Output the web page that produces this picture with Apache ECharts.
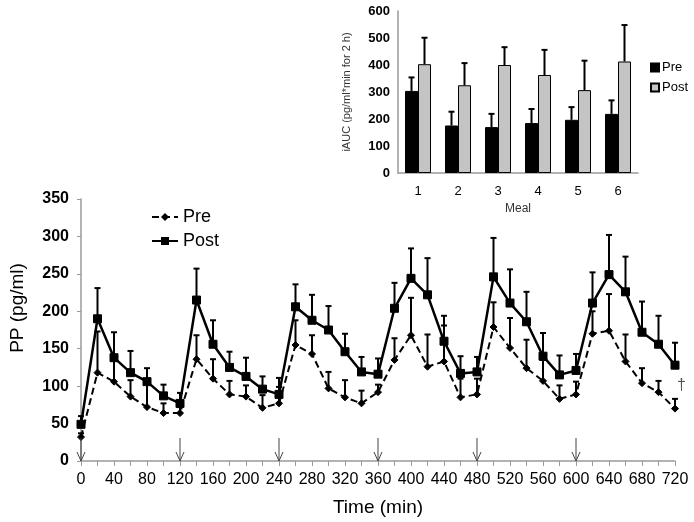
<!DOCTYPE html>
<html><head><meta charset="utf-8">
<script src="https://cdn.jsdelivr.net/npm/echarts/dist/echarts.min.js"></script>
<style>html,body{margin:0;padding:0;background:#fff}#c{width:694px;height:522px}</style>
</head><body><div id="c"></div>
<script>
// ---- main chart data (PP, pg/ml) ----
const times    = [0,20,40,60,80,100,120,140,160,180,200,220,240,260,280,300,320,340,360,380,400,420,440,460,480,500,520,540,560,580,600,620,640,660,680,700,720];
const preMean  = [32,118,106,86,72,64,64,136,110,89,86,71,77,155,143,97,85,77,92,135,168,126,133,85,89,179,151,124,107,83,89,170,174,133,104,92,70];
const preUpper = [37,173,137,108,103,77,72,168,136,107,101,88,99,188,168,119,108,94,102,164,218,169,181,110,110,212,191,162,135,101,106,200,223,169,124,107,83];
const postMean = [49,190,138,118,106,87,77,215,156,125,113,96,89,206,188,175,146,119,116,204,244,222,160,117,119,246,211,186,140,115,121,211,249,226,172,156,128];
const postUpper= [60,231,172,147,124,102,91,257,188,146,138,113,111,236,222,207,170,139,137,238,284,271,194,140,139,298,256,226,171,141,143,252,302,273,213,194,158];
const mealTimes = [0,120,240,360,480,600];

// ---- inset data (iAUC) ----
const meals      = ['1','2','3','4','5','6'];
const aucPre     = [304,176,170,185,197,219];
const aucPreUp   = [354,227,219,237,244,269];
const aucPost    = [403,325,400,363,307,413];
const aucPostUp  = [501,407,466,456,416,548];

const FONT = 'Liberation Sans, Arial, sans-serif';
const AX = '#9a9a9a';
const BARW = 13;

function errMain(params, api){
  const x = api.value(0), m = api.value(1), u = api.value(2);
  const p0 = api.coord([x,m]), p1 = api.coord([x,u]);
  const hw = 3;
  return {type:'group', children:[
    {type:'line', shape:{x1:p0[0],y1:p0[1],x2:p1[0],y2:p1[1]}, style:{stroke:'#000', lineWidth:2}},
    {type:'line', shape:{x1:p1[0]-hw,y1:p1[1],x2:p1[0]+hw,y2:p1[1]}, style:{stroke:'#000', lineWidth:2}}
  ]};
}
function errInset(offset){
  return function(params, api){
    const x = api.value(0), m = api.value(1), u = api.value(2);
    const p0 = api.coord([x,m]), p1 = api.coord([x,u]);
    const cx = p0[0] + offset;
    const hw = 3;
    return {type:'group', children:[
      {type:'line', shape:{x1:cx,y1:p0[1],x2:cx,y2:p1[1]}, style:{stroke:'#000', lineWidth:2}},
      {type:'line', shape:{x1:cx-hw,y1:p1[1],x2:cx+hw,y2:p1[1]}, style:{stroke:'#000', lineWidth:2}}
    ]};
  };
}
function arrowRender(params, api){
  const p = api.coord([api.value(0), 0]);
  const len = 23;
  return {type:'group', children:[
    {type:'line', shape:{x1:p[0],y1:p[1]-len,x2:p[0],y2:p[1]}, style:{stroke:'#444', lineWidth:1}},
    {type:'polyline', shape:{points:[[p[0]-4,p[1]-9],[p[0],p[1]],[p[0]+4,p[1]-9]]}, style:{stroke:'#444', lineWidth:1, fill:null}}
  ]};
}

const chart = echarts.init(document.getElementById('c'), null, {renderer:'canvas'});
const option = {
  animation:false,
  backgroundColor:'#fff',
  textStyle:{fontFamily:FONT},
  grid:[
    {left:78, top:199, width:597, height:264},
    {left:398, top:11, width:240, height:162}
  ],
  legend:[
    {data:['Pre','Post'], orient:'vertical', left:146, top:203, itemWidth:26, itemHeight:10, itemGap:6,
     selectedMode:false, textStyle:{fontSize:18, color:'#000', fontFamily:FONT}},
    {data:['Pre (iAUC)','Post (iAUC)'], orient:'vertical', left:645, top:56, itemWidth:8, itemHeight:8, itemGap:7, icon:'rect',
     selectedMode:false, formatter:n=>n.replace(' (iAUC)',''), textStyle:{fontSize:13, color:'#000', fontFamily:FONT, padding:[0,0,0,-2]}}
  ],
  xAxis:[
    {type:'value', gridIndex:0, min:0, max:720, interval:20,
     name:'Time (min)', nameLocation:'middle', nameGap:37, nameTextStyle:{fontSize:19, color:'#000', fontFamily:FONT},
     axisLine:{lineStyle:{color:AX, width:1.5}}, axisTick:{lineStyle:{color:AX}, length:5},
     axisLabel:{fontSize:16, color:'#000', margin:11, formatter:v=> (v%40===0 ? String(v) : '')},
     splitLine:{show:false}},
    {type:'category', gridIndex:1, data:meals,
     name:'Meal', nameLocation:'middle', nameGap:30, nameTextStyle:{fontSize:12, color:'#333', fontFamily:FONT},
     axisLine:{lineStyle:{color:AX, width:1.5}}, axisTick:{show:false},
     axisLabel:{fontSize:13, color:'#000', margin:12}}
  ],
  yAxis:[
    {type:'value', gridIndex:0, min:0, max:350, interval:50,
     name:'PP (pg/ml)', nameLocation:'middle', nameGap:54, nameTextStyle:{fontSize:19, color:'#000', fontFamily:FONT, padding:[0,0,0,44]},
     axisLine:{show:true, lineStyle:{color:AX, width:1.5}}, axisTick:{show:true, lineStyle:{color:AX}, length:4},
     axisLabel:{fontSize:16, color:'#000', fontWeight:'bold', margin:12},
     splitLine:{show:false}},
    {type:'value', gridIndex:1, min:0, max:600, interval:100,
     name:'iAUC (pg/ml*min for 2 h)', nameLocation:'middle', nameGap:46, nameTextStyle:{fontSize:11, color:'#333', fontFamily:FONT},
     axisLine:{show:true, lineStyle:{color:AX, width:1.5}}, axisTick:{show:false},
     axisLabel:{fontSize:13, color:'#000', fontWeight:'bold', margin:8},
     splitLine:{show:false}}
  ],
  series:[
    {type:'custom', name:'errPre', xAxisIndex:0, yAxisIndex:0, renderItem:errMain,
     data: times.map((t,i)=>[t, preMean[i], preUpper[i]]), encode:{x:0, y:[1,2]}, z:3, silent:true},
    {type:'custom', name:'errPost', xAxisIndex:0, yAxisIndex:0, renderItem:errMain,
     data: times.map((t,i)=>[t, postMean[i], postUpper[i]]), encode:{x:0, y:[1,2]}, z:3, silent:true},
    {type:'line', name:'Pre', xAxisIndex:0, yAxisIndex:0, data: times.map((t,i)=>[t, preMean[i]]),
     symbol:'diamond', symbolSize:7, showSymbol:true,
     lineStyle:{color:'#000', width:2, type:[7,4]}, itemStyle:{color:'#000', borderColor:'#000'}, z:4},
    {type:'line', name:'Post', xAxisIndex:0, yAxisIndex:0, data: times.map((t,i)=>[t, postMean[i]]),
     symbol:'rect', symbolSize:8, showSymbol:true,
     lineStyle:{color:'#000', width:2.5}, itemStyle:{color:'#000', borderColor:'#000'}, z:5},
    {type:'custom', name:'arrows', xAxisIndex:0, yAxisIndex:0, renderItem:arrowRender,
     data: mealTimes.map(t=>[t]), encode:{x:0}, z:6, silent:true},
    {type:'bar', name:'Pre (iAUC)', xAxisIndex:1, yAxisIndex:1, data:aucPre, barWidth:BARW, barGap:'0%',
     itemStyle:{color:'#000', borderColor:'#000', borderWidth:1}},
    {type:'bar', name:'Post (iAUC)', xAxisIndex:1, yAxisIndex:1, data:aucPost, barWidth:BARW, barGap:'0%',
     itemStyle:{color:'#c4c4c4', borderColor:'#000', borderWidth:1}},
    {type:'custom', name:'errAucPre', xAxisIndex:1, yAxisIndex:1, renderItem:errInset(-BARW/2),
     data: meals.map((m,i)=>[i, aucPre[i], aucPreUp[i]]), encode:{x:0, y:[1,2]}, z:4, silent:true},
    {type:'custom', name:'errAucPost', xAxisIndex:1, yAxisIndex:1, renderItem:errInset(BARW/2),
     data: meals.map((m,i)=>[i, aucPost[i], aucPostUp[i]]), encode:{x:0, y:[1,2]}, z:4, silent:true}
  ]
};
chart.setOption(option);
const dag = chart.convertToPixel({xAxisIndex:0, yAxisIndex:0}, [720, 100]);
chart.setOption({graphic:[{type:'text', left:dag[0]+2, top:dag[1]-9,
  style:{text:'†', fontSize:16, fill:'#555', fontFamily:FONT}}]});
</script>
</body></html>
